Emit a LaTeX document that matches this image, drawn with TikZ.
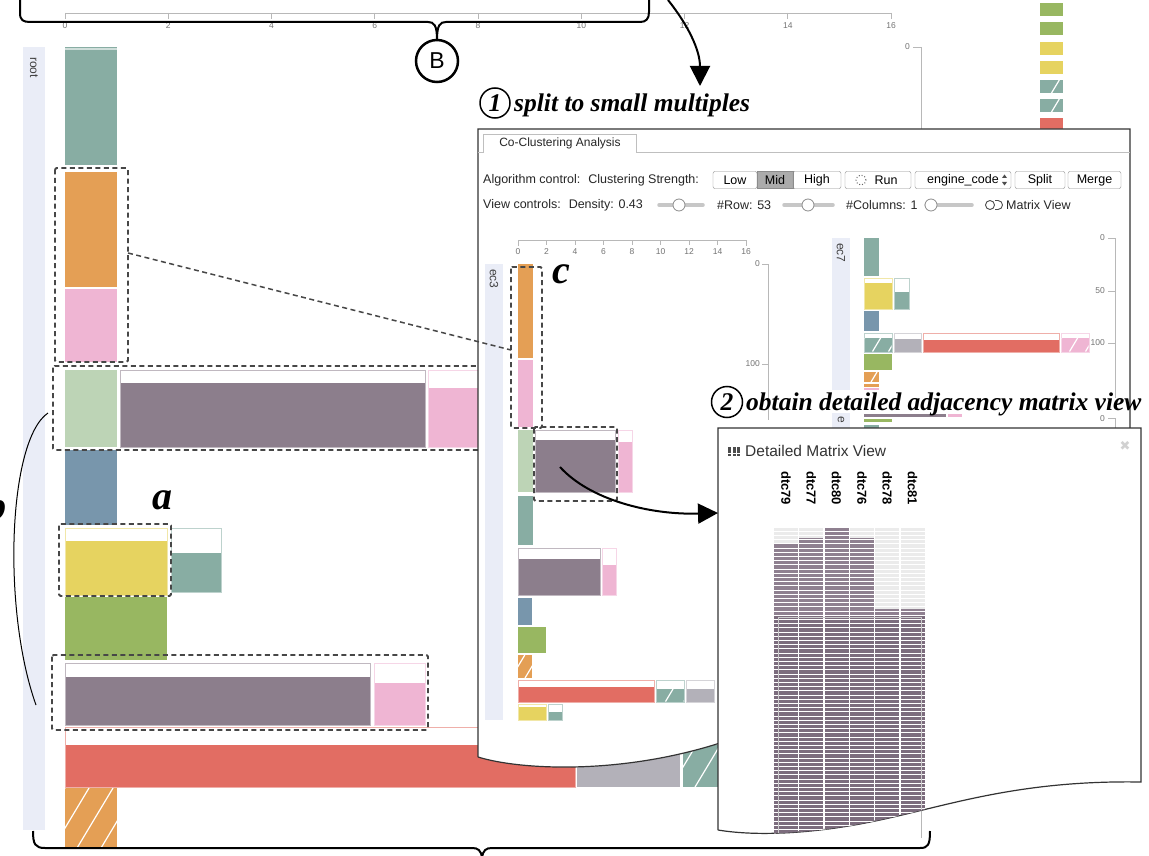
\documentclass[tikz,border=0pt]{standalone}
\usepackage{fontspec}
\setmainfont{Liberation Serif}
\setsansfont{Liberation Sans}
\newfontfamily\symfont{DejaVu Sans}
\usetikzlibrary{arrows.meta}

\definecolor{cteal}{HTML}{88ADA3}
\definecolor{corange}{HTML}{E49F55}
\definecolor{cpink}{HTML}{EFB5D3}
\definecolor{clgreen}{HTML}{BDD4B6}
\definecolor{cpurple}{HTML}{8C7E8C}
\definecolor{cblue}{HTML}{7896AC}
\definecolor{cyellow}{HTML}{E6D360}
\definecolor{cgreen}{HTML}{98B761}
\definecolor{cred}{HTML}{E26D63}
\definecolor{cgray}{HTML}{B3B1B9}
\definecolor{cstrip}{HTML}{EAEDF7}
\definecolor{cmat}{HTML}{8F8090}
\definecolor{cmatdark}{HTML}{7C6C7D}

% bar with an empty (white) top part
\newcommand\topbar[6]{%
  \fill[white] (#1,#2) rectangle (#3,#4);
  \fill[#6] (#1,#5) rectangle (#3,#4);
  \draw[#6!55!white, line width=0.8pt] (#1,#2) rectangle (#3,#4);}
% hatched bar
\newcommand\hatchbar[6]{%
  \begin{scope}
    \clip (#1,#2) rectangle (#3,#4);
    \fill[#5] (#1,#2) rectangle (#3,#4);
    \foreach \i in {-4,...,8}
      \draw[white, line width=1.2pt] ({#1+(\i+0.5)*#6},#4) -- ++({0.6*(#4-#2)},{-(#4-#2)});
  \end{scope}}

\begin{document}
\begin{tikzpicture}[x=1pt, y=-1pt,
    dbox/.style={draw=black!72, line width=1.8pt, dash pattern=on 5pt off 3.5pt, rounded corners=1.5pt},
    axis/.style={draw=black!28, line width=0.9pt},
    ticklab/.style={font=\fontsize{8.5}{9}\sffamily, text=black!55, inner sep=1pt},
    ui/.style={font=\fontsize{12.5}{14}\sffamily, text=black!85, inner sep=0pt},
    btn/.style={draw=black!45, rounded corners=2pt, font=\fontsize{12.5}{14}\sffamily, minimum height=17pt, inner sep=0pt},
    note/.style={font=\fontsize{25.5}{27}\selectfont\bfseries\itshape, inner sep=0pt},
    letter/.style={font=\fontsize{40}{40}\selectfont\bfseries\itshape, inner sep=0pt},
    big arrow/.style={line width=2pt, -{Triangle[length=20pt,width=20pt]}},
    stripname/.style={rotate=-90, anchor=west, font=\fontsize{12}{13}\sffamily, text=black!75, inner sep=0pt},
    knob/.style={draw=black!45, fill=white, line width=0.8pt},
    track/.style={draw=black!22, line width=3.5pt, line cap=round}]
  \useasboundingbox (0,0) rectangle (1149,856);
  \fill[white] (0,0) rectangle (1149,856);

  % overview: axes and legend
  \draw[axis] (65,19) -- (65,13) -- (891,13) -- (891,19);
  \foreach \v [count=\i from 0] in {0,2,...,16} {
    \draw[axis] ({65+103.25*\i},13) -- ++(0,6);
    \node[ticklab] (tk\i) at ({65+103.25*\i},26) {\v};
  }
  \draw[axis] (913,47) -- (921,47) -- (921,838);
  \node[ticklab, anchor=east] (tkr) at (911,47) {0};
  \foreach \c [count=\k from 0] in {cgreen,cgreen,cyellow,cyellow}
    \fill[\c] (1040,{3+19.3*\k}) rectangle (1063,{16+19.3*\k});
  \hatchbar{1040}{80}{1063}{93}{cteal}{23}
  \hatchbar{1040}{99}{1063}{112}{cteal}{23}
  \fill[cred] (1040,118) rectangle (1063,135);

  % overview: root bars
  \fill[cstrip] (23,47) rectangle (45,830);
  \node[stripname] (root) at (34,57) {root};
  \fill[cteal] (65,47) rectangle (117,165);
  \draw[cteal!40!white, line width=1.2pt] (65,49) -- (117,49);
  \fill[corange] (65,172) rectangle (117,287);
  \fill[cpink] (65,289) rectangle (117,362);
  \fill[clgreen] (65,370) rectangle (117,447);
  \topbar{120}{370}{425}{447}{383}{cpurple}
  \topbar{428}{370}{478}{447}{388}{cpink}
  \fill[cblue] (65,450) rectangle (117,525);
  \topbar{65}{528}{167}{595}{541}{cyellow}
  \topbar{171}{528}{221}{592}{553}{cteal}
  \fill[cgreen] (65,597) rectangle (167,660);
  \topbar{65}{663}{370}{725}{677}{cpurple}
  \topbar{374}{663}{425}{725}{683}{cpink}
  \topbar{65}{727}{575}{787}{745}{cred}
  \fill[cgray] (577,743) rectangle (680,787);
  \hatchbar{683}{745}{740}{787}{cteal}{24}
  \hatchbar{65}{788}{117}{848}{corange}{24}

  % highlights on the overview
  \draw[dbox] (55,168) rectangle (128,362);
  \draw[dbox] (53,366) rectangle (480,450);
  \draw[dbox] (59,524) rectangle (171,596);
  \draw[dbox] (52,655) rectangle (428,730);
  \node[letter] (la) at (162,500) {a};
  \node[letter] (lb) at (-3,506) {b};
  \draw[line width=1pt] (48,413) .. controls (8,440) and (2,610) .. (36,705);

  % brace B and first step
  \draw[line width=2pt] (20,0) -- (20,13) .. controls (20,20) and (23,22) .. (30,22) -- (428,22)
    .. controls (434,22) and (437,25) .. (437,40) .. controls (437,25) and (440,22) .. (446,22)
    -- (640,22) .. controls (646,22) and (649,19) .. (649,12) -- (649,0);
  \node[circle, draw, line width=2.5pt, minimum size=42pt, inner sep=0pt, font=\fontsize{23}{23}\sffamily] (B) at (437,61) {B};
  \coordinate (s1) at (668,0);
  \coordinate (e1) at (700,86);
  \draw[big arrow] (s1) .. controls (688,25) and (700,50) .. (e1);
  \node[circle, draw, line width=1.5pt, minimum size=30pt, inner sep=0pt, note] (n1) at (495,103) {1};
  \node[note, anchor=west] (t1) at (514,105) {split to small multiples};

  % co-clustering panel
  \filldraw[fill=white, draw=black!80, line width=1.2pt] (478,757) -- (478,129) -- (1130,129) -- (1130,745)
    -- (720,743) .. controls (620,775) and (520,770) .. (478,757);
  \draw[black!25] (478,152) -- (483,152) -- (483,134) -- (636,134) -- (636,152) -- (1130,152);
  \node[ui, font=\fontsize{12}{13}\sffamily] (tab) at (560,143) {Co-Clustering Analysis};
  \node[ui, anchor=west] (algo) at (483,180) {Algorithm control:\hspace{8pt}Clustering Strength:};
  \node[btn, minimum width=44pt] (low) at (735,180) {Low};
  \node[btn, minimum width=36pt, fill=black!33, rounded corners=0pt] (mid) at (775,180) {Mid};
  \node[btn, minimum width=48pt] (high) at (817,180) {High};
  \node[btn, minimum width=66pt] (run) at (878,180) {\hspace{16pt}Run};
  \draw[black!60, dotted, line width=1pt] (861,180) circle (5pt);
  \node[btn, minimum width=96pt] (engine) at (963,180) {engine\_code\hspace{12pt}};
  \fill[black!70] (1002,178) -- (1007,178) -- (1004.5,174.5) -- cycle;
  \fill[black!70] (1002,182) -- (1007,182) -- (1004.5,185.5) -- cycle;
  \node[btn, minimum width=50pt] (split) at (1040,180) {Split};
  \node[btn, minimum width=53pt] (merge) at (1094.5,180) {Merge};
  \node[ui, anchor=west] (view) at (483,205) {View controls:\hspace{8pt}Density: 0.43};
  \draw[track] (659,205) -- (703,205);
  \draw[knob] (679,205) circle (6pt);
  \node[ui, anchor=west] (rows) at (717,205) {\#Row: 53};
  \draw[track] (784,205) -- (833,205);
  \draw[knob] (808,205) circle (6pt);
  \node[ui, anchor=west] (cols) at (846,205) {\#Columns: 1};
  \draw[track] (926,205) -- (972,205);
  \draw[knob] (931,205) circle (6pt);
  \draw[black!70, line width=0.9pt] (990,205) circle (4.5pt);
  \draw[black!70, line width=0.9pt] (995,200.5) -- (998,200.5) arc (90:-90:4.5pt) -- (995,209.5);
  \node[ui, anchor=west] (mview) at (1006,205) {Matrix View};

  % small multiple ec3
  \draw[axis] (518,246) -- (518,240) -- (746,240) -- (746,246);
  \foreach \v [count=\i from 0] in {0,2,...,16} {
    \draw[axis] ({518+28.5*\i},240) -- ++(0,5);
    \node[ticklab] (sa\i) at ({518+28.5*\i},252) {\v};
  }
  \draw[axis] (762,264) -- (768,264) -- (768,420);
  \draw[axis] (762,364) -- (768,364);
  \node[ticklab, anchor=east] (sb0) at (761,264) {0};
  \node[ticklab, anchor=east] (sb1) at (761,364) {100};
  \fill[cstrip] (485,264) rectangle (503,720);
  \node[stripname] (ec3) at (494,269) {ec3};
  \fill[corange] (518,264) rectangle (533,358);
  \fill[cpink] (518,360) rectangle (533,427);
  \fill[clgreen] (518,430) rectangle (533,492);
  \topbar{535}{430}{615}{492}{440}{cpurple}
  \topbar{618}{430}{632}{492}{442}{cpink}
  \fill[cteal] (518,496) rectangle (533,545);
  \topbar{518}{548}{600}{595}{559}{cpurple}
  \topbar{602}{548}{616}{595}{565}{cpink}
  \fill[cblue] (518,598) rectangle (532,625);
  \fill[cgreen] (518,627) rectangle (546,653);
  \hatchbar{518}{655}{532}{678}{corange}{14}
  \topbar{518}{680}{654}{702}{687}{cred}
  \topbar{656}{680}{684}{702}{689}{cteal}
  \hatchbar{656.5}{689}{683.5}{701.5}{cteal}{18}
  \topbar{686}{680}{714}{702}{689}{cgray}
  \topbar{518}{704}{546}{720}{707}{cyellow}
  \topbar{548}{704}{562}{720}{712}{cteal}
  \draw[dbox] (511,267) rectangle (542,428);
  \draw[dbox] (534,427) rectangle (617,501);
  \node[letter] (lc) at (561,274) {c};

  % small multiple ec7
  \fill[cstrip] (832,238) rectangle (850,390);
  \node[stripname] (ec7) at (841,243) {ec7};
  \fill[cteal] (864,238) rectangle (879,276);
  \topbar{864}{278}{892}{309}{283}{cyellow}
  \topbar{894}{278}{909}{309}{292}{cteal}
  \fill[cblue] (864,311) rectangle (879,331);
  \topbar{864}{333}{892}{352}{338}{cteal}
  \hatchbar{864.5}{338}{891.5}{351.5}{cteal}{16}
  \topbar{894}{333}{921}{352}{339}{cgray}
  \topbar{923}{333}{1059}{352}{340}{cred}
  \topbar{1061}{333}{1089}{352}{338}{cpink}
  \hatchbar{1061.5}{338}{1088.5}{351.5}{cpink}{16}
  \fill[cgreen] (864,354) rectangle (892,370);
  \hatchbar{864}{372}{879}{382}{corange}{14}
  \fill[corange] (864,384) rectangle (879,386.5);
  \fill[cpink] (864,388) rectangle (879,390);
  \draw[axis] (1108,238) -- (1115,238) -- (1115,398);
  \draw[axis] (1108,291) -- (1115,291);
  \draw[axis] (1108,343) -- (1115,343);
  \node[ticklab, anchor=east] (sc0) at (1106,238) {0};
  \node[ticklab, anchor=east] (sc1) at (1106,291) {50};
  \node[ticklab, anchor=east] (sc2) at (1106,343) {100};
  \fill[cstrip] (832,413) rectangle (850,440);
  \node[stripname] (ecn) at (841,416) {e};
  \fill[cpurple] (864,414) rectangle (946,417);
  \fill[cpink] (948,414) rectangle (962,417);
  \fill[cgreen] (864,419) rectangle (892,422);
  \fill[cteal] (864,425) rectangle (879,428);
  \draw[axis] (1108,418) -- (1115,418) -- (1115,440);
  \node[ticklab, anchor=east] (sd0) at (1106,419) {0};

  % link from overview to ec3
  \coordinate (lk1) at (128,253);
  \coordinate (lk2) at (511,350);
  \draw[dbox, line width=1.5pt] (lk1) -- (lk2);

  % second step
  \node[circle, draw, line width=1.5pt, minimum size=31pt, inner sep=0pt, note] (n2) at (727,402) {2};
  \node[note, anchor=west] (t2) at (746,404) {obtain detailed adjacency matrix view};

  % detailed matrix panel
  \filldraw[fill=white, draw=black!80, line width=1.2pt] (718,830) -- (718,428) -- (1141,428) -- (1141,782)
    .. controls (1020,780) and (950,805) .. (880,820) .. controls (820,833) and (760,837) .. (718,830);
  \foreach \a in {0,1,2}
    \foreach \b in {0,1,2}
      \fill[black!70] ({728+\a*4.5},{447+\b*3.3}) rectangle ++(3.4,2.6);
  \node[font=\fontsize{15.5}{17}\sffamily, anchor=west, inner sep=0pt, text=black!80] (mtitle) at (745,451) {Detailed Matrix View};
  \node[font=\fontsize{13}{13}\symfont, text=black!18, inner sep=0pt] (close) at (1125,446) {✖};
  \foreach \n [count=\i from 0] in {dtc79,dtc77,dtc80,dtc76,dtc78,dtc81}
    \node[rotate=-90, anchor=west, font=\fontsize{13}{13}\sffamily\bfseries, inner sep=0pt] (col\i) at ({786+25.3*\i},471) {\n};
  \begin{scope}
    \clip (718,830) -- (718,428) -- (1141,428) -- (1141,782)
      .. controls (1020,780) and (950,805) .. (880,820) .. controls (820,833) and (760,837) .. (718,830);
    \foreach \t [count=\i from 0] in {543,538,527,538,609,609} {
      \fill[black!8] ({774+25.3*\i},527) rectangle ++(24,88);
      \fill[cmat] ({774+25.3*\i},\t) rectangle ({798+25.3*\i},615);
      \fill[cmatdark] ({774+25.3*\i},615) rectangle ({798+25.3*\i},860);
    }
    \foreach \r in {0,...,78}
      \draw[white, line width=0.8pt] (774,{527+4.2*\r}) -- (925,{527+4.2*\r});
    \draw[white!80!black, line width=0.8pt] (778,617) rectangle (921,870);
  \end{scope}

  % arrow into the matrix view
  \coordinate (s2) at (560,467);
  \coordinate (e2) at (718,513);
  \draw[big arrow] (s2) .. controls (590,500) and (650,515) .. (e2);

  % bottom brace
  \draw[line width=2pt] (33,831) .. controls (33,844) and (35,848) .. (45,848) -- (472,848)
    .. controls (478,848) and (481,850) .. (482,858) .. controls (483,850) and (486,848) .. (492,848)
    -- (920,848) .. controls (928,848) and (930,845) .. (930,831);
\end{tikzpicture}
\end{document}
